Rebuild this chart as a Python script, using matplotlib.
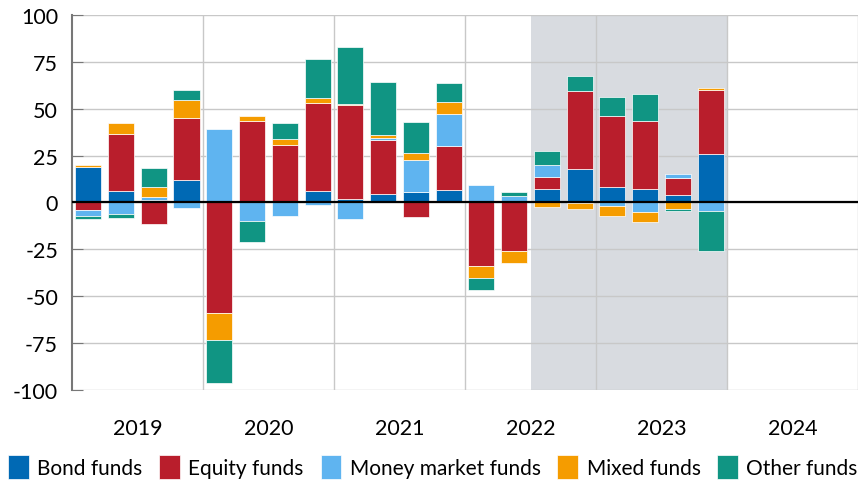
import matplotlib
matplotlib.use("Agg")
import matplotlib.pyplot as plt
import numpy as np

# Net flows by fund type, quarterly 2019Q1 - 2023Q4
quarters = [f"{y}Q{q}" for y in range(2019, 2024) for q in range(1, 5)]
bond = [19.1, 6.3, 1.3, 12.2, 0.0, 0.0, 0.5, 6.0, 2.1, 4.6, 5.6, 6.7, 0.0, 0.0, 7.2, 18.1, 8.0, 7.2, 4.0, 25.7]
equity = [-4.1, 30.4, -11.4, 33.0, -59.0, 43.4, 30.1, 47.0, 50.0, 28.7, -8.0, 23.6, -34.0, -25.9, 6.6, 41.3, 38.1, 36.2, 9.1, 34.4]
money_market = [-3.0, -6.1, 1.7, -3.2, 39.4, -9.8, -7.1, -1.4, -9.0, 0.9, 17.3, 16.7, 9.4, 3.4, 6.2, -0.5, -1.7, -5.0, 1.9, -4.8]
mixed = [0.7, 5.9, 5.0, 9.6, -14.4, 2.5, 3.4, 2.9, 0.6, 1.8, 3.3, 6.4, -6.3, -6.2, -2.3, -3.2, -5.4, -5.6, -3.6, 1.2]
other = [-1.6, -2.1, 10.6, 5.3, -22.9, -11.5, 8.3, 20.7, 30.3, 28.0, 16.9, 10.2, -6.3, 2.2, 7.3, 7.8, 10.4, 14.6, -1.2, -20.9]

series = [
    ("Bond funds", bond, "#0069b4"),
    ("Equity funds", equity, "#b91e2c"),
    ("Money market funds", money_market, "#5fb4f0"),
    ("Mixed funds", mixed, "#f59c00"),
    ("Other funds", other, "#109583"),
]
years = [2019, 2020, 2021, 2022, 2023, 2024]

plt.rcParams['font.family'] = ['Lato', 'DejaVu Sans']
plt.rcParams['axes.unicode_minus'] = False
fs = 15.5

fig = plt.figure(figsize=(8.66, 4.85), dpi=100)
ax = fig.add_axes([0.0831, 0.194, 0.9077, 0.773])

# position of each quarter inside its year
x = np.array([int(q[:4]) + (int(q[-1]) - 0.5) / 4 for q in quarters])

# shaded period
ax.axvspan(2022.5, 2024.0, color="#d8dbe0", zorder=0, lw=0)

pos_base = np.zeros(len(x))
neg_base = np.zeros(len(x))
for name, vals, col in series:
    v = np.array(vals)
    bottom = np.where(v >= 0, pos_base, neg_base)
    ax.bar(x, v, width=0.2, bottom=bottom, color=col, label=name,
           edgecolor="white", linewidth=0.5, zorder=3)
    pos_base = pos_base + np.where(v >= 0, v, 0)
    neg_base = neg_base + np.where(v < 0, v, 0)

ax.axhline(0, color="black", lw=1.6, zorder=4)

ax.set_xlim(2019, 2025)
ax.set_ylim(-100, 100)
ax.set_yticks(np.arange(-100, 101, 25))
ax.set_xticks(years[1:] + [2025])
ax.set_xticklabels([])
ax.set_xticks([y + 0.5 for y in years], minor=True)
ax.set_xticklabels([str(y) for y in years], minor=True, fontsize=fs)
ax.tick_params(axis="x", which="both", length=0, pad=20)
ax.tick_params(axis="y", direction="in", length=8, color="#777777",
               labelsize=fs, pad=10)

ax.grid(True, which="major", color="#c8c8c8", lw=1, zorder=1)
ax.set_axisbelow(True)
for s in ["top", "right", "bottom"]:
    ax.spines[s].set_visible(False)
ax.spines["left"].set_color("#777777")
ax.spines["left"].set_linewidth(1.5)

fig.legend(loc="lower center", bbox_to_anchor=(0.5, -0.015), ncol=5,
           frameon=False, fontsize=15, handlelength=1.0, handleheight=1.35,
           handletextpad=0.4, columnspacing=0.8, borderaxespad=0.2)

fig.savefig("out.png", dpi=100)
